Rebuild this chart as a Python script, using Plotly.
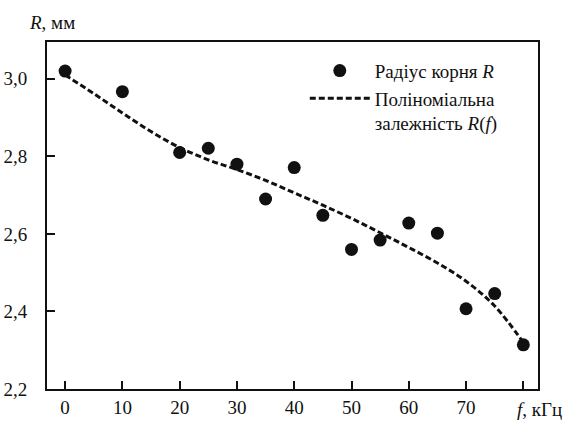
import plotly.graph_objects as go

# Data
freq = [0, 10, 20, 25, 30, 35, 40, 45, 50, 55, 60, 65, 70, 75, 80]
radius = [3.020, 2.967, 2.810, 2.821, 2.780, 2.690, 2.771, 2.648, 2.560,
          2.584, 2.628, 2.602, 2.407, 2.446, 2.314]

fit_x = [0, 5, 10, 15, 20, 25, 30, 35, 40, 45, 50, 55, 60, 65, 70, 75, 80]
fit_y = [3.010, 2.962, 2.912, 2.864, 2.823, 2.791, 2.766, 2.738, 2.706,
         2.674, 2.640, 2.603, 2.565, 2.525, 2.478, 2.414, 2.320]

xticks = [0, 10, 20, 30, 40, 50, 60, 70, 80]
xticklabels = ["0", "10", "20", "30", "40", "50", "60", "70", ""]
yticks = [2.2, 2.4, 2.6, 2.8, 3.0]

FONT = "Liberation Serif, DejaVu Serif, serif"
INK = "#111111"

fig = go.Figure()
fig.add_trace(go.Scatter(
    x=freq, y=radius, mode="markers",
    marker=dict(size=13, color=INK),
    name="Радіус корня <i>R</i>",
))
fig.add_trace(go.Scatter(
    x=fit_x, y=fit_y, mode="lines",
    line=dict(color=INK, width=3, dash="6px,3px", shape="spline"),
    name="Поліноміальна<br>залежність <i>R</i>(<i>f</i>)",
))

axis_common = dict(
    showline=True, linecolor=INK, linewidth=2, mirror=True,
    ticks="inside", ticklen=8, tickwidth=2, tickcolor=INK,
    showgrid=False, zeroline=False, automargin=False,
    tickfont=dict(family=FONT, size=19, color=INK),
)

fig.update_xaxes(range=[-3.16, 82.56], tickvals=xticks, ticktext=xticklabels,
                 ticklabelstandoff=0, **axis_common)
fig.update_yaxes(range=[2.2, 3.095], tickvals=yticks, tickformat=".1f",
                 ticklabelstandoff=14, **axis_common)

fig.add_annotation(text="<i>R</i>, мм", xref="paper", yref="paper",
                   x=-0.0407, y=1.0576, xanchor="left", yanchor="middle",
                   showarrow=False, font=dict(family=FONT, size=19, color=INK))
fig.add_annotation(text="<i>f</i>, кГц", xref="x", yref="paper",
                   x=80, xshift=-8, y=-0.058, xanchor="left", yanchor="middle",
                   showarrow=False, font=dict(family=FONT, size=19, color=INK))

fig.update_layout(
    width=575, height=422,
    margin=dict(l=47, r=37, t=42, b=33, autoexpand=False),
    paper_bgcolor="white", plot_bgcolor="white",
    separators=", ",
    font=dict(family=FONT, size=19, color=INK),
    showlegend=True,
    legend=dict(
        x=0.525, y=0.972, xanchor="left", yanchor="top",
        bgcolor="rgba(0,0,0,0)", borderwidth=0,
        itemwidth=60, valign="top",
        font=dict(family=FONT, size=19, color=INK),
        tracegroupgap=0,
    ),
)

fig.write_html("out.html")
